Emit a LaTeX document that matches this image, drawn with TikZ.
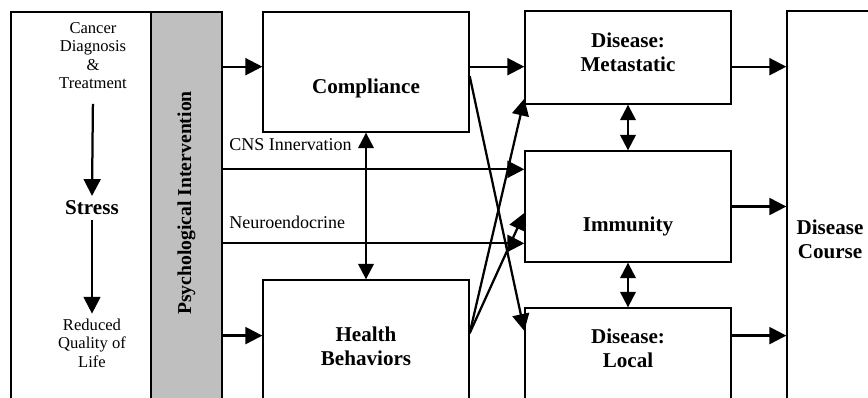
\documentclass[tikz,border=0pt]{standalone}
\usepackage{fontspec}
\setmainfont{Liberation Serif}
\usetikzlibrary{arrows.meta}

\begin{document}
\begin{tikzpicture}[
		box/.style={draw, line width=0.95pt, inner sep=0pt},
		conn/.style={-{Triangle[length=12pt, width=12pt]}, line width=1.6pt},
		twoway/.style={{Triangle[length=11pt, width=11pt]}-{Triangle[length=11pt, width=11pt]}, line width=1.6pt},
		title/.style={font=\fontsize{15}{17.3}\selectfont\bfseries, align=center},
		plain/.style={font=\fontsize{11.8}{13.2}\selectfont, align=center},
		chan/.style={font=\fontsize{12.8}{14}\selectfont, anchor=west, inner sep=0pt}
	]
	\useasboundingbox (0, 0) rectangle (21.7, -9.925);
	\clip (0, 0) rectangle (21.7, -9.925);
	\node[box, minimum width=3.5cm, minimum height=10.2cm] (life) at (2.025, -5.4) {};
	\node[box, fill=gray!50, minimum width=1.775cm, minimum height=10.2cm] (psych) at (4.6625, -5.4) {};
	\node[box, minimum width=5.15cm, minimum height=3cm] (compl) at (9.15, -1.8) {};
	\node[box, minimum width=5.15cm, minimum height=3.5cm] (health) at (9.15, -8.75) {};
	\node[box, minimum width=5.15cm, minimum height=2.325cm] (meta) at (15.7, -1.4375) {};
	\node[box, minimum width=5.15cm, minimum height=2.775cm] (immun) at (15.7, -5.1625) {};
	\node[box, minimum width=5.15cm, minimum height=2.8cm] (local) at (15.7, -9.1) {};
	\node[box, minimum width=2.825cm, minimum height=10.225cm] (course) at (21.0875, -5.3875) {};
	\node[plain] (cancer) at (2.325, -1.39) {Cancer\\Diagnosis\\\&\\Treatment};
	\node[title] (stress) at (2.3, -5.2) {Stress};
	\node[plain] (reduced) at (2.3, -8.575) {Reduced\\Quality of\\Life};
	\node[title, font=\fontsize{14}{16}\selectfont\bfseries, rotate=90] (psychtext) at (4.6625, -5.075) {Psychological Intervention};
	\node[title] (compltext) at (9.15, -2.2) {Compliance};
	\node[title] (healthtext) at (9.15, -8.65) {Health\\Behaviors};
	\node[title] (metatext) at (15.7, -1.3) {Disease:\\Metastatic};
	\node[title] (immuntext) at (15.7, -5.65) {Immunity};
	\node[title] (localtext) at (15.7, -8.7) {Disease:\\Local};
	\node[title] (coursetext) at (20.75, -5.975) {Disease\\Course};
	\node[chan] (cns) at (5.725, -3.625) {CNS Innervation};
	\node[chan] (neuro) at (5.725, -5.57) {Neuroendocrine};
	\coordinate (upper) at (0, -1.667);
	\coordinate (lower) at (0, -8.39);
	\coordinate (cnsrow) at (0, -4.233);
	\coordinate (neurorow) at (0, -6.083);
	\draw[conn, shorten <=0.25cm] (cancer.south) -- (stress.north);
	\draw[conn] (stress.south) -- (reduced.north);
	\draw[conn] (psych.east |- upper) -- (compl.west |- upper);
	\draw[conn] (psych.east |- lower) -- (health.west |- lower);
	\draw[conn] (psych.east |- cnsrow) -- (immun.west |- cnsrow);
	\draw[conn] (psych.east |- neurorow) -- (immun.west |- neurorow);
	\draw[twoway] (compl.south) -- (health.north);
	\draw[conn] (compl.east |- upper) -- (meta.west |- upper);
	\draw[conn] ([yshift=-1mm]compl.east) -- ([yshift=-5.9mm]local.north west);
	\draw[conn] ([yshift=4.2mm]health.east) -- ([yshift=1.5mm]meta.south west);
	\draw[conn] ([yshift=4.2mm]health.east) -- ([yshift=-1.6mm]immun.west);
	\draw[twoway] (meta.south) -- (immun.north);
	\draw[twoway] (immun.south) -- (local.north);
	\draw[conn] (meta.east |- upper) -- (course.west |- upper);
	\draw[conn] (immun.east) -- (course.west |- immun.east);
	\draw[conn] (local.east |- lower) -- (course.west |- lower);
\end{tikzpicture}
\end{document}
